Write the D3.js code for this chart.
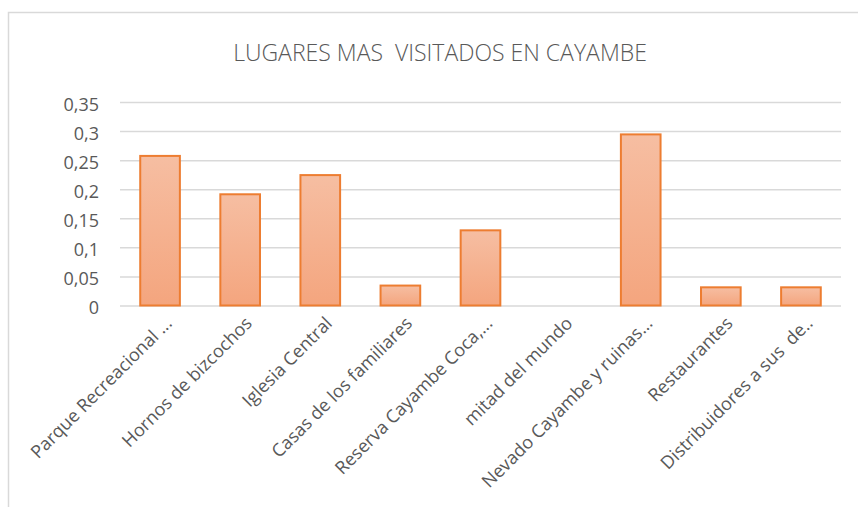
<!DOCTYPE html>
<html>
<head>
<meta charset="utf-8">
<script src="https://cdn.jsdelivr.net/npm/d3@7"></script>
<style>
  html, body { margin: 0; padding: 0; background: #fff; }
  svg { display: block; }
  text { white-space: pre; }
</style>
</head>
<body>
<svg id="chart" width="858" height="507"></svg>
<script>
const categories = [
  "Parque Recreacional ...",
  "Hornos de bizcochos",
  "Iglesia Central",
  "Casas de los familiares",
  "Reserva Cayambe Coca,...",
  "mitad del mundo",
  "Nevado Cayambe y ruinas...",
  "Restaurantes",
  "Distribuidores a sus  de.."
];
const values = [0.259, 0.193, 0.226, 0.036, 0.131, 0, 0.296, 0.033, 0.033];
const yTicks = [0, 0.05, 0.1, 0.15, 0.2, 0.25, 0.3, 0.35];
const yTickLabels = ["0", "0,05", "0,1", "0,15", "0,2", "0,25", "0,3", "0,35"];
const title = "LUGARES MAS  VISITADOS EN CAYAMBE";

const svg = d3.select("#chart");
const font = "'Open Sans', sans-serif";
const textColor = "#595959";

// chart frame (cropped on right and bottom)
svg.append("path")
  .attr("d", "M8.5,507 L8.5,12.5 L858,12.5")
  .attr("fill", "none")
  .attr("stroke", "#D9D9D9")
  .attr("stroke-width", 1.5);

const plot = { left: 120, right: 841, top: 102, bottom: 305.5 };

const x = d3.scaleBand().domain(categories).range([plot.left, plot.right]).paddingInner(0.48).paddingOuter(0.24);
const y = d3.scaleLinear().domain([0, 0.35]).range([plot.bottom, plot.top]);

const defs = svg.append("defs");
const grad = defs.append("linearGradient").attr("id", "barGrad").attr("x1", 0).attr("y1", 0).attr("x2", 0).attr("y2", 1);
grad.append("stop").attr("offset", "0%").attr("stop-color", "#F6BEA2");
grad.append("stop").attr("offset", "100%").attr("stop-color", "#F4A57E");

// gridlines via axis
const yAxis = d3.axisLeft(y).tickValues(yTicks)
  .tickSize(-(plot.right - plot.left))
  .tickFormat((d, i) => yTickLabels[i]);
const gy = svg.append("g").attr("transform", `translate(${plot.left},0)`).call(yAxis);
gy.select(".domain").remove();
gy.selectAll(".tick line").attr("stroke", "#D9D9D9").attr("stroke-width", 1.5);
gy.selectAll(".tick text")
  .attr("x", -21)
  .attr("dy", "0.45em")
  .attr("fill", textColor)
  .attr("font-family", font)
  .attr("font-size", "18px");

// bars
svg.append("g").selectAll("rect")
  .data(values)
  .join("rect")
  .attr("x", (d, i) => x(categories[i]) + 1)
  .attr("y", d => y(d) + 1)
  .attr("width", x.bandwidth() - 2)
  .attr("height", d => Math.max(0, y(0) - y(d) - 1))
  .attr("fill", "url(#barGrad)")
  .attr("stroke", "#ED7D31")
  .attr("stroke-width", 2)
  .attr("display", d => d > 0 ? null : "none");

// x labels
const xAxis = d3.axisBottom(x).tickSize(0);
const gx = svg.append("g").attr("transform", `translate(0,${plot.bottom})`).call(xAxis);
gx.select(".domain").remove();
gx.selectAll(".tick text")
  .attr("fill", textColor)
  .attr("font-family", font)
  .attr("font-size", "18px")
  .attr("text-anchor", "end")
  .attr("dy", 0)
  .attr("y", 0)
  .attr("transform", "translate(13,19) rotate(-45)");

// title
svg.append("text")
  .attr("x", 440)
  .attr("y", 61)
  .attr("text-anchor", "middle")
  .attr("fill", textColor)
  .attr("font-family", font)
  .attr("font-weight", 300)
  .attr("font-size", "23px")
  .text(title);
</script>
</body>
</html>
